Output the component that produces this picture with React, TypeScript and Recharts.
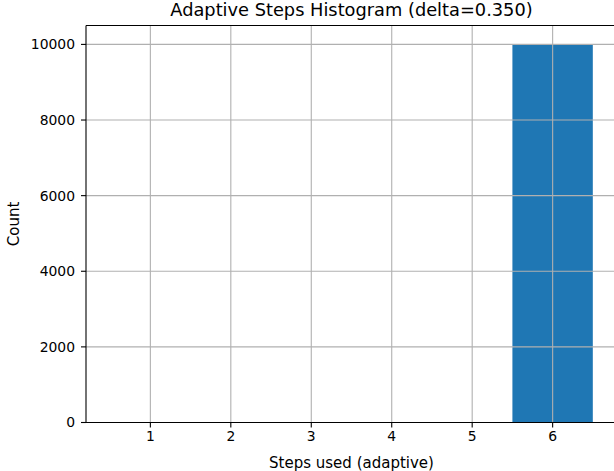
import React from "react";
import { ComposedChart, Bar, XAxis, YAxis, ReferenceLine, Label } from "recharts";

const steps = [1, 2, 3, 4, 5, 6];
const counts = [0, 0, 0, 0, 0, 10000];
const yTicks = [0, 2000, 4000, 6000, 8000, 10000];
const xDomain: [number, number] = [0.2, 6.8];
const yDomain: [number, number] = [0, 10500];
const title = "Adaptive Steps Histogram (delta=0.350)";
const xLabel = "Steps used (adaptive)";
const yLabel = "Count";

const data = steps.map((s, i) => ({ step: s, count: counts[i] }));

const FONT = "DejaVu Sans, sans-serif";
const CHART_W = 640;
const CHART_H = 471;
const MARGIN = { top: 25.5, right: 23, bottom: 0, left: 0 };
const Y_W = 86;
const X_H = 48.5;
const plotW = CHART_W - MARGIN.left - MARGIN.right - Y_W;
// slightly below the band width so Recharts does not shrink it to 90%
const barW = plotW / (xDomain[1] - xDomain[0]) - 0.05;
const plotCenterX = MARGIN.left + Y_W + plotW / 2;
const GRID = "#b0b0b0";

export default function App() {
  const yMid = MARGIN.top + (CHART_H - MARGIN.top - X_H) / 2;
  return (
    <div
      style={{
        position: "fixed",
        left: 0,
        top: 0,
        width: 614,
        height: 471,
        overflow: "hidden",
        background: "#fff",
      }}
    >
      <div
        style={{
          position: "absolute",
          left: plotCenterX - 300,
          width: 600,
          top: -1,
          textAlign: "center",
          fontFamily: FONT,
          fontSize: 17.8,
          lineHeight: "22px",
          color: "#000",
        }}
      >
        {title}
      </div>
      <ComposedChart
        width={CHART_W}
        height={CHART_H}
        data={data}
        margin={MARGIN}
        barCategoryGap={0}
        barGap={0}
        style={{ position: "absolute", left: 0, top: 0 }}
      >
        <XAxis
          type="number"
          dataKey="step"
          domain={xDomain}
          ticks={steps}
          allowDataOverflow
          height={X_H}
          tickSize={5}
          tickMargin={4}
          axisLine={{ stroke: "#000", strokeWidth: 1.1 }}
          tickLine={{ stroke: "#000", strokeWidth: 1.1 }}
          tick={{ fill: "#000", fontFamily: FONT, fontSize: 13.9 }}
        >
          <Label
            value={xLabel}
            position="insideBottom"
            offset={3}
            style={{ fill: "#000", fontFamily: FONT, fontSize: 15 }}
          />
        </XAxis>
        <YAxis
          type="number"
          domain={yDomain}
          ticks={yTicks}
          width={Y_W}
          tickSize={5}
          tickMargin={6}
          axisLine={{ stroke: "#000", strokeWidth: 1.1 }}
          tickLine={{ stroke: "#000", strokeWidth: 1.1 }}
          tick={{ fill: "#000", fontFamily: FONT, fontSize: 13.9 }}
        >
          <Label
            content={() => (
              <text
                x={19}
                y={yMid}
                transform={`rotate(-90, 19, ${yMid})`}
                textAnchor="middle"
                fill="#000"
                style={{ fontFamily: FONT, fontSize: 15 }}
              >
                {yLabel}
              </text>
            )}
          />
        </YAxis>
        <Bar
          dataKey="count"
          fill="#1f77b4"
          barSize={barW}
          isAnimationActive={false}
        />
        {yTicks.slice(1).map((v) => (
          <ReferenceLine key={`h${v}`} y={v} stroke={GRID} strokeWidth={1.1} />
        ))}
        {steps.map((v) => (
          <ReferenceLine key={`v${v}`} x={v} stroke={GRID} strokeWidth={1.1} />
        ))}
        <ReferenceLine y={yDomain[1]} stroke="#000" strokeWidth={1.1} />
      </ComposedChart>
    </div>
  );
}
